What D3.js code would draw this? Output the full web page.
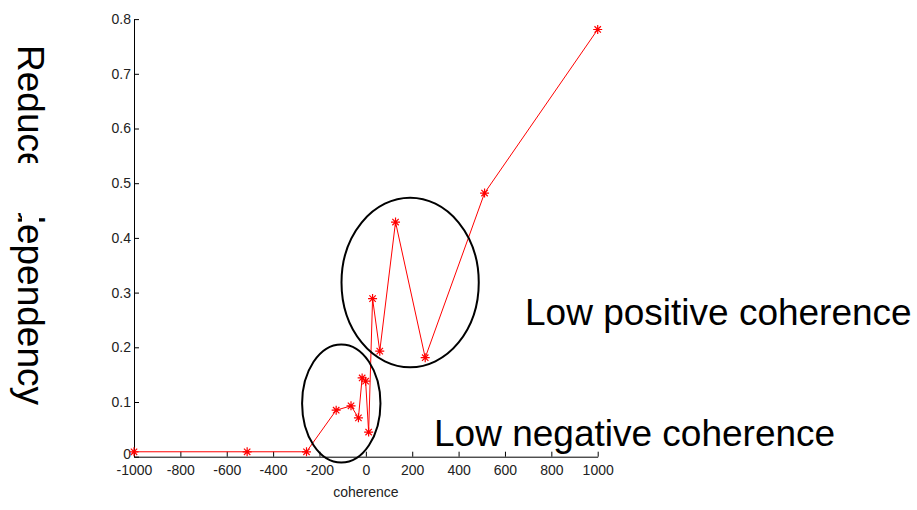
<!DOCTYPE html>
<html>
<head>
<meta charset="utf-8">
<script src="https://cdn.jsdelivr.net/npm/d3@7"></script>
<style>
  html, body { margin: 0; padding: 0; background: #fff; }
  svg { display: block; }
  .tick text { font-family: 'Liberation Sans', Arial, sans-serif; font-size: 14px; fill: #222; }
</style>
</head>
<body>
<div id="chart"></div>
<script>
// coherence (x) vs reduced dependency (y)
const coherence = [-1000, -512, -256, -128, -64, -32, -16, -1, 12, 29, 60, 128, 256, 512, 1000];
const dependency = [0.009, 0.009, 0.009, 0.085, 0.093, 0.071, 0.144, 0.138, 0.045, 0.289, 0.193, 0.429, 0.181, 0.482, 0.781];

const xTicks = [-1000, -800, -600, -400, -200, 0, 200, 400, 600, 800, 1000];
const yTicks = [0, 0.1, 0.2, 0.3, 0.4, 0.5, 0.6, 0.7, 0.8];

// circled regions, in data units: centre x, centre y, half-width, half-height
const regionCx = [-106, 191];
const regionCy = [0.0973, 0.3185];
const regionRx = [169, 296];
const regionRy = [0.108, 0.155];

const labelText = ['Low positive coherence', 'Low negative coherence'];

const width = 917;
const height = 510;

const svg = d3.select('#chart').append('svg')
  .attr('width', width)
  .attr('height', height);

svg.append('rect')
  .attr('width', width)
  .attr('height', height)
  .attr('fill', '#fff');

const x = d3.scaleLinear().domain([-1000, 1000]).range([134, 597.7]);
const y = d3.scaleLinear().domain([0, 0.8]).range([456.7, 19.1]);

// axes: MATLAB style, ticks pointing inwards, no box
const xAxis = d3.axisBottom(x)
  .tickValues(xTicks)
  .tickFormat(d => String(d))
  .tickSizeInner(-5)
  .tickSizeOuter(0)
  .tickPadding(8);

const yAxis = d3.axisLeft(y)
  .tickValues(yTicks)
  .tickFormat(d => (d === 0 ? '0' : d3.format('.1f')(d)))
  .tickSizeInner(-5)
  .tickSizeOuter(0)
  .tickPadding(3);

const gx = svg.append('g')
  .attr('transform', `translate(0, ${y(0)})`)
  .call(xAxis);
const gy = svg.append('g')
  .attr('transform', `translate(${x(-1000)}, 0)`)
  .call(yAxis);

[gx, gy].forEach((g) => {
  g.select('.domain').attr('stroke', '#000').attr('stroke-width', 1);
  g.selectAll('.tick line').attr('stroke', '#000');
});

// the "0" at the corner sits a little high so it clears "-1000"
gy.selectAll('.tick text').filter(d => d === 0).attr('dy', '0.1em');

svg.append('text')
  .attr('x', x(0))
  .attr('y', 497)
  .attr('text-anchor', 'middle')
  .attr('font-family', "'Liberation Sans', Arial, sans-serif")
  .attr('font-size', 14)
  .attr('fill', '#222')
  .text('coherence');

// y label, rotated, with a patch of it hidden as in the source figure
svg.append('text')
  .attr('transform', 'translate(18, 45) rotate(90)')
  .attr('font-family', "'Liberation Sans', Arial, sans-serif")
  .attr('font-size', 37)
  .attr('fill', '#000')
  .text('Reduced dependency');
svg.append('rect')
  .attr('x', 0)
  .attr('y', 163)
  .attr('width', 60)
  .attr('height', 50)
  .attr('fill', '#fff');
svg.append('rect')
  .attr('x', 22)
  .attr('y', 212)
  .attr('width', 17)
  .attr('height', 12)
  .attr('fill', '#fff');

// data line
const points = coherence.map((c, i) => [c, dependency[i]]);

svg.append('path')
  .datum(points)
  .attr('fill', 'none')
  .attr('stroke', '#ff0000')
  .attr('stroke-width', 1)
  .attr('d', d3.line().x(d => x(d[0])).y(d => y(d[1])));

// '*' markers
const star = 'M-4.5,0H4.5M0,-4.5V4.5M-3.2,-3.2L3.2,3.2M-3.2,3.2L3.2,-3.2';
svg.append('g').selectAll('path')
  .data(points)
  .join('path')
  .attr('transform', d => `translate(${x(d[0])}, ${y(d[1])})`)
  .attr('d', star)
  .attr('fill', 'none')
  .attr('stroke', '#ff0000')
  .attr('stroke-width', 1.2);

// circled regions
svg.append('g').selectAll('ellipse')
  .data(regionCx)
  .join('ellipse')
  .attr('cx', d => x(d))
  .attr('cy', (d, i) => y(regionCy[i]))
  .attr('rx', (d, i) => x(regionRx[i]) - x(0))
  .attr('ry', (d, i) => y(0) - y(regionRy[i]))
  .attr('fill', 'none')
  .attr('stroke', '#000')
  .attr('stroke-width', 2);

// annotations
svg.append('g').selectAll('text')
  .data(labelText)
  .join('text')
  .attr('x', (d, i) => (i === 0 ? 525 : 434))
  .attr('y', (d, i) => (i === 0 ? 325 : 445.7))
  .attr('font-family', "'Liberation Sans', Arial, sans-serif")
  .attr('font-size', 37)
  .attr('fill', '#000')
  .text(d => d);
</script>
</body>
</html>
